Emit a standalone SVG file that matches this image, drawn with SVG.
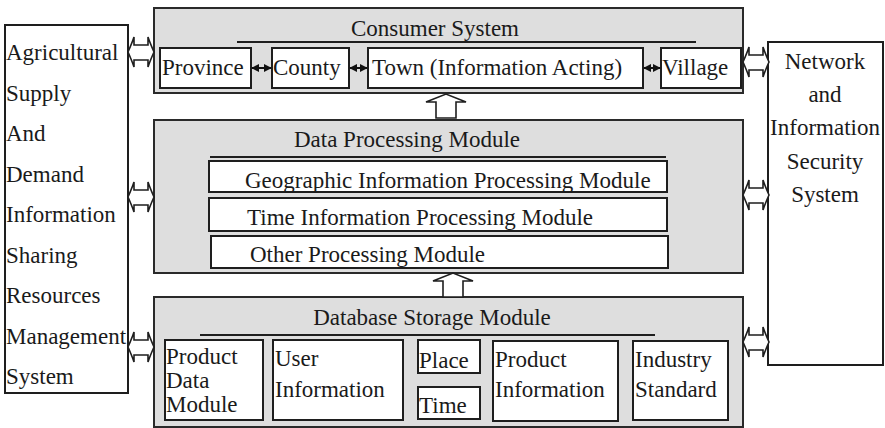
<svg xmlns="http://www.w3.org/2000/svg" width="885" height="428" viewBox="0 0 885 428" font-family="'Liberation Serif','Times New Roman',serif">
<defs>
<style>
text{font-family:"Liberation Serif","Times New Roman",serif;font-size:23px;fill:#1a1a1a}
.c{text-anchor:middle}
.box{fill:#fff;stroke:#1e1e1e;stroke-width:2}
.grp{fill:#dedede;stroke:#2a2a2a;stroke-width:2}
.sep{stroke:#1e1e1e;stroke-width:2;fill:none}
.ha{fill:#fff;stroke:#1e1e1e;stroke-width:1.6}
.da{stroke:#111;stroke-width:2;fill:none}
</style>
<marker id="ah" viewBox="0 0 10 10" refX="9" refY="5" markerWidth="4" markerHeight="4" orient="auto-start-reverse"><path d="M0,0 L10,5 L0,10 Z" fill="#111"/></marker>
<path id="hda" d="M0,15 Q4,6 6,0 L6,8 L20,8 L20,0 Q22,6 26,15 Q22,24 20,30 L20,23 L6,23 L6,30 Q4,24 0,15 Z"/>
<path id="ua" d="M0,8 L20,0 L40,8 L30,8 L30,24 L10,24 L10,8 Z"/>
</defs>
<rect width="885" height="428" fill="#fff"/>

<g id="left-system">
<rect class="box" x="5" y="25" width="123" height="368"/>
<text x="6" y="60">Agricultural</text>
<text x="6" y="100.5">Supply</text>
<text x="6" y="141">And</text>
<text x="6" y="181.5">Demand</text>
<text x="6" y="222">Information</text>
<text x="6" y="262.5">Sharing</text>
<text x="6" y="303">Resources</text>
<text x="6" y="343.5">Management</text>
<text x="6" y="384">System</text>
</g>

<g id="network-security">
<rect class="box" x="768" y="42" width="115" height="323"/>
<text class="c" x="825" y="69">Network</text>
<text class="c" x="825" y="102">and</text>
<text class="c" x="825" y="135">Information</text>
<text class="c" x="825" y="169">Security</text>
<text class="c" x="825" y="202">System</text>
</g>

<g id="consumer-system">
<rect class="grp" x="154" y="8" width="589" height="85"/>
<text class="c" x="435" y="36">Consumer System</text>
<line class="sep" x1="237" y1="42" x2="696" y2="42"/>
<g id="province"><rect class="box" x="160" y="48" width="91" height="40"/><text x="162" y="75">Province</text></g>
<g id="county"><rect class="box" x="272" y="48" width="77" height="40"/><text x="273" y="75">County</text></g>
<g id="town"><rect class="box" x="368" y="48" width="275" height="40"/><text x="372" y="75">Town (Information Acting)</text></g>
<g id="village"><rect class="box" x="661" y="48" width="80" height="40"/><text x="662" y="75">Village</text></g>
</g>

<g id="data-processing">
<rect class="grp" x="154" y="120" width="589" height="153"/>
<text class="c" x="407" y="147">Data Processing Module</text>
<line class="sep" x1="210" y1="157" x2="666" y2="157"/>
<g id="geo"><rect class="box" x="209" y="161" width="458" height="31"/><text x="245" y="188">Geographic Information Processing Module</text></g>
<g id="time-proc"><rect class="box" x="209" y="198" width="458" height="33"/><text x="247" y="225">Time Information Processing Module</text></g>
<g id="other"><rect class="box" x="211" y="236" width="457" height="32"/><text x="250" y="262">Other Processing Module</text></g>
</g>

<g id="database-storage">
<rect class="grp" x="154" y="297" width="589" height="130"/>
<text class="c" x="432" y="325">Database Storage Module</text>
<line class="sep" x1="200" y1="335" x2="655" y2="335"/>
<g id="product-data"><rect class="box" x="165" y="340" width="98" height="80"/><text x="166" y="364">Product</text><text x="166" y="388">Data</text><text x="166" y="412">Module</text></g>
<g id="user-info"><rect class="box" x="273" y="340" width="130" height="80"/><text x="275" y="366">User</text><text x="275" y="397">Information</text></g>
<g id="place"><rect class="box" x="418" y="340" width="62" height="33"/><text x="419" y="368">Place</text></g>
<g id="time"><rect class="box" x="418" y="387" width="62" height="32"/><text x="419" y="413">Time</text></g>
<g id="product-info"><rect class="box" x="493" y="341" width="125" height="80"/><text x="495" y="367">Product</text><text x="495" y="397">Information</text></g>
<g id="industry"><rect class="box" x="633" y="341" width="95" height="79"/><text x="635" y="367">Industry</text><text x="635" y="397">Standard</text></g>
</g>

<g id="connectors">
<use href="#hda" class="ha" x="128" y="37"/>
<use href="#hda" class="ha" x="128" y="182"/>
<use href="#hda" class="ha" x="128" y="332"/>
<use href="#hda" class="ha" x="743" y="47"/>
<use href="#hda" class="ha" x="743" y="180"/>
<use href="#hda" class="ha" x="743" y="327"/>
<use href="#ua" class="ha" x="426" y="94"/>
<use href="#ua" class="ha" x="433" y="273"/>
<line class="da" x1="252" y1="68" x2="271" y2="68" marker-start="url(#ah)" marker-end="url(#ah)"/>
<line class="da" x1="350" y1="68" x2="367" y2="68" marker-start="url(#ah)" marker-end="url(#ah)"/>
<line class="da" x1="644" y1="68" x2="660" y2="68" marker-start="url(#ah)" marker-end="url(#ah)"/>
</g>
</svg>
